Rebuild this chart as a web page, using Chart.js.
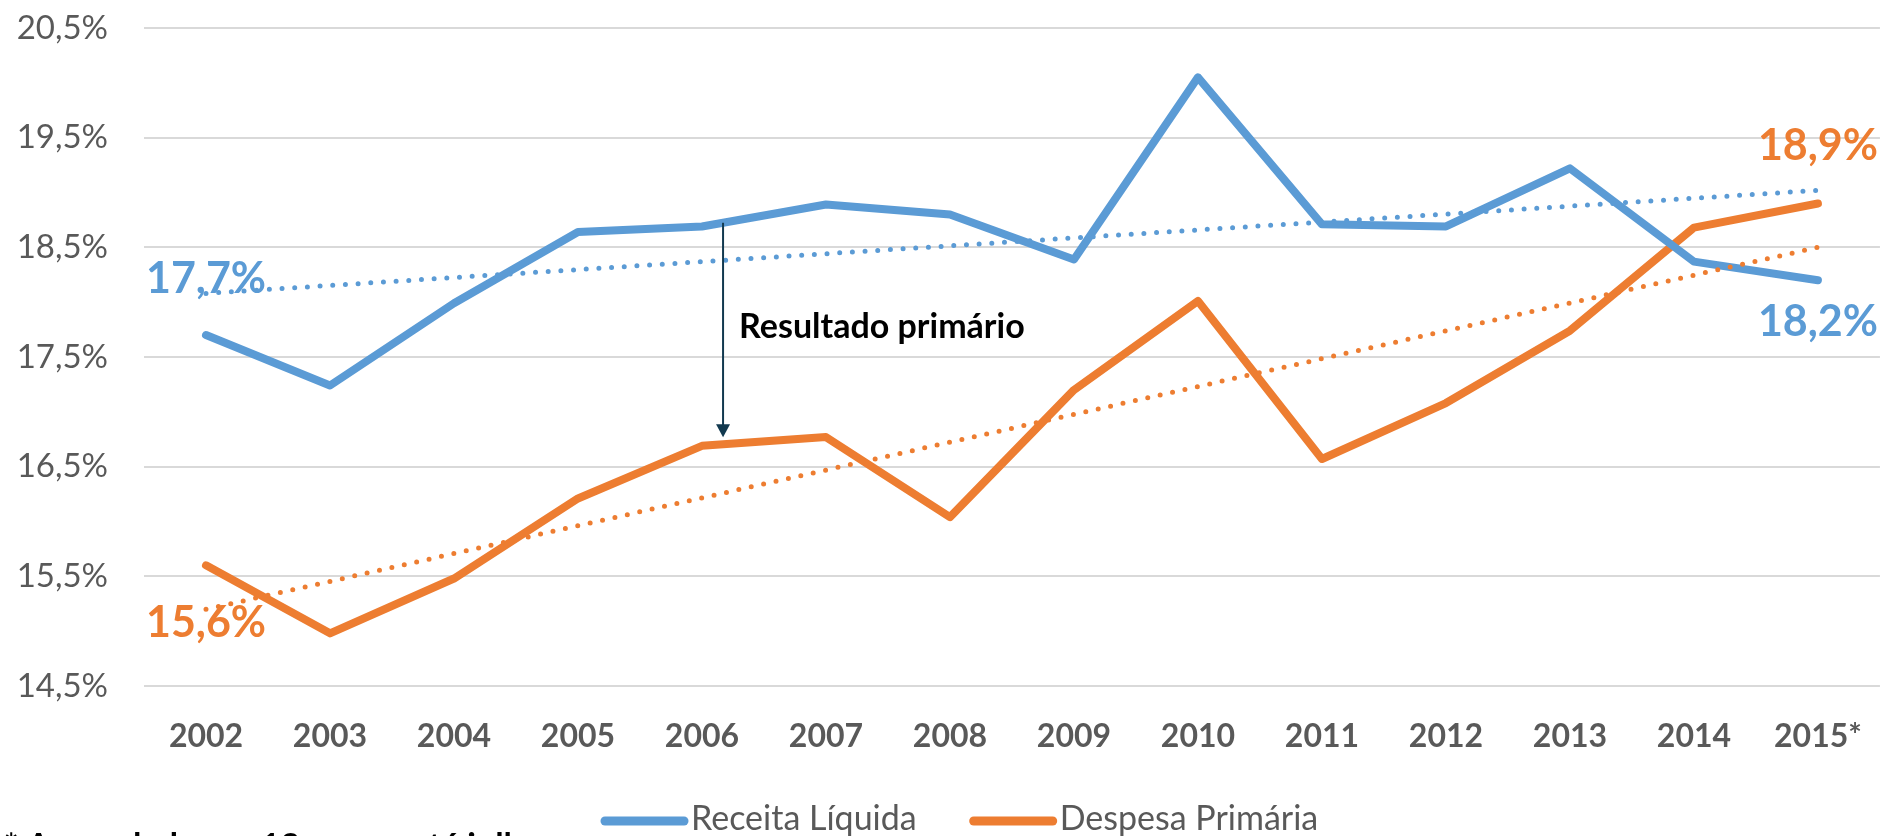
<!DOCTYPE html>
<html>
<head>
  <title>Receita Líquida x Despesa Primária</title>
  <style>
    html, body {
      margin: 0;
      padding: 0;
      background: #fff;
      overflow: hidden;
    }
    .chart-container {
      position: relative;
      width: 1885px;
      height: 836px;
    }
  </style>
</head>
<body>
  <div class="chart-container">
    <canvas id="lineChart"></canvas>
  </div>

  <!-- Chart.js -->
  <script src="https://cdn.jsdelivr.net/npm/chart.js"></script>
  <script>
    // dados (% do PIB)
    const anos = ['2002', '2003', '2004', '2005', '2006', '2007', '2008', '2009', '2010', '2011', '2012', '2013', '2014', '2015*'];
    const receitaLiquida = [17.7, 17.24, 17.99, 18.64, 18.69, 18.89, 18.8, 18.39, 20.05, 18.71, 18.69, 19.22, 18.37, 18.2];
    const despesaPrimaria = [15.6, 14.98, 15.48, 16.21, 16.69, 16.77, 16.04, 17.2, 18.01, 16.57, 17.08, 17.74, 18.68, 18.9];
    // linhas de tendência: só os extremos
    const tendenciaReceita = [18.08, null, null, null, null, null, null, null, null, null, null, null, null, 19.02];
    const tendenciaDespesa = [15.2, null, null, null, null, null, null, null, null, null, null, null, null, 18.5];
    const yTicks = [14.5, 15.5, 16.5, 17.5, 18.5, 19.5, 20.5];

    const AZUL = '#5B9BD5';
    const LARANJA = '#ED7D31';
    const CINZA = '#595959';

    const fmt = v => v.toFixed(1).replace('.', ',') + '%';

    // rótulos, seta, legenda e nota de rodapé
    const extras = {
      id: 'extras',
      afterDatasetsDraw(chart) {
        const ctx = chart.ctx;
        const x = chart.scales.x;
        const rec = chart.getDatasetMeta(2).data;
        const desp = chart.getDatasetMeta(3).data;
        const last = anos.length - 1;

        // rótulos de valor
        ctx.save();
        ctx.font = 'bold 43px Lato';
        ctx.textAlign = 'center';
        ctx.textBaseline = 'alphabetic';
        ctx.fillStyle = AZUL;
        ctx.fillText(fmt(receitaLiquida[0]), rec[0].x, rec[0].y - 42);
        ctx.fillText(fmt(receitaLiquida[last]), rec[last].x, rec[last].y + 56);
        ctx.fillStyle = LARANJA;
        ctx.fillText(fmt(despesaPrimaria[0]), desp[0].x, desp[0].y + 72);
        ctx.fillText(fmt(despesaPrimaria[last]), desp[last].x, desp[last].y - 43);
        ctx.restore();

        // seta "Resultado primário"
        const t = 0.17;
        const ax = x.getPixelForValue(4 + t);
        const y1 = rec[4].y + (rec[5].y - rec[4].y) * t;
        const y2 = desp[4].y + (desp[5].y - desp[4].y) * t - 7;
        ctx.save();
        ctx.strokeStyle = '#12394F';
        ctx.fillStyle = '#12394F';
        ctx.lineWidth = 2;
        ctx.beginPath();
        ctx.moveTo(ax, y1);
        ctx.lineTo(ax, y2 - 12);
        ctx.stroke();
        ctx.beginPath();
        ctx.moveTo(ax - 7, y2 - 13);
        ctx.lineTo(ax + 7, y2 - 13);
        ctx.lineTo(ax, y2);
        ctx.closePath();
        ctx.fill();
        ctx.font = 'bold 34px Lato';
        ctx.fillStyle = '#000';
        ctx.textAlign = 'left';
        ctx.textBaseline = 'alphabetic';
        ctx.fillText('Resultado primário', ax + 16, 338);
        ctx.restore();
      },
      afterDraw(chart) {
        const ctx = chart.ctx;
        ctx.save();
        // legenda
        ctx.font = '34px Lato';
        ctx.textBaseline = 'alphabetic';
        ctx.textAlign = 'left';
        let lx = 601;
        [[2, 'Receita Líquida'], [3, 'Despesa Primária']].forEach(([i, nome]) => {
          ctx.strokeStyle = chart.data.datasets[i].borderColor;
          ctx.lineWidth = 9;
          ctx.lineCap = 'round';
          ctx.beginPath();
          ctx.moveTo(lx + 4, 821);
          ctx.lineTo(lx + 83, 821);
          ctx.stroke();
          ctx.fillStyle = CINZA;
          ctx.fillText(nome, lx + 90, 830);
          lx += 90 + ctx.measureText(nome).width + 53;
        });
        // nota
        ctx.font = 'bold 34px Lato';
        ctx.fillStyle = '#000';
        ctx.fillText('* Acumulado em 12 meses até julho', 4, 858);
        ctx.restore();
      }
    };

    const lineChart = new Chart(document.getElementById('lineChart'), {
      type: 'line',
      data: {
        labels: anos,
        datasets: [
          {
            label: 'Tendência Receita',
            data: tendenciaReceita,
            borderColor: AZUL,
            borderWidth: 5,
            borderDash: [0, 12.7],
            borderCapStyle: 'round',
            spanGaps: true,
            pointRadius: 0
          },
          {
            label: 'Tendência Despesa',
            data: tendenciaDespesa,
            borderColor: LARANJA,
            borderWidth: 5,
            borderDash: [0, 12.7],
            borderCapStyle: 'round',
            spanGaps: true,
            pointRadius: 0
          },
          {
            label: 'Receita Líquida',
            data: receitaLiquida,
            borderColor: AZUL,
            borderWidth: 8,
            borderCapStyle: 'round',
            borderJoinStyle: 'round',
            pointRadius: 0,
            tension: 0
          },
          {
            label: 'Despesa Primária',
            data: despesaPrimaria,
            borderColor: LARANJA,
            borderWidth: 8,
            borderCapStyle: 'round',
            borderJoinStyle: 'round',
            pointRadius: 0,
            tension: 0
          }
        ]
      },
      options: {
        responsive: true,
        maintainAspectRatio: false,
        animation: false,
        layout: {
          padding: { top: 28, right: 4, left: 0, bottom: 0 }
        },
        plugins: {
          legend: { display: false },
          tooltip: { enabled: false }
        },
        scales: {
          x: {
            offset: true,
            grid: { display: false },
            border: { display: false },
            ticks: {
              color: CINZA,
              font: { family: 'Lato', size: 32, weight: 'bold' },
              padding: 23,
              maxRotation: 0,
              autoSkip: false
            },
            afterFit: axis => { axis.height = 150; }
          },
          y: {
            min: 14.5,
            max: 20.5,
            afterBuildTicks: axis => { axis.ticks = yTicks.map(v => ({ value: v })); },
            grid: { color: '#D9D9D9', lineWidth: 2, drawTicks: false },
            border: { display: false },
            ticks: {
              color: CINZA,
              font: { family: 'Lato', size: 33 },
              padding: 36,
              callback: v => fmt(v)
            },
            afterFit: axis => {
              axis.width = 144;
              axis.paddingTop = 0;
              axis.paddingBottom = 0;
            }
          }
        }
      },
      plugins: [extras]
    });
  </script>
</body>
</html>
